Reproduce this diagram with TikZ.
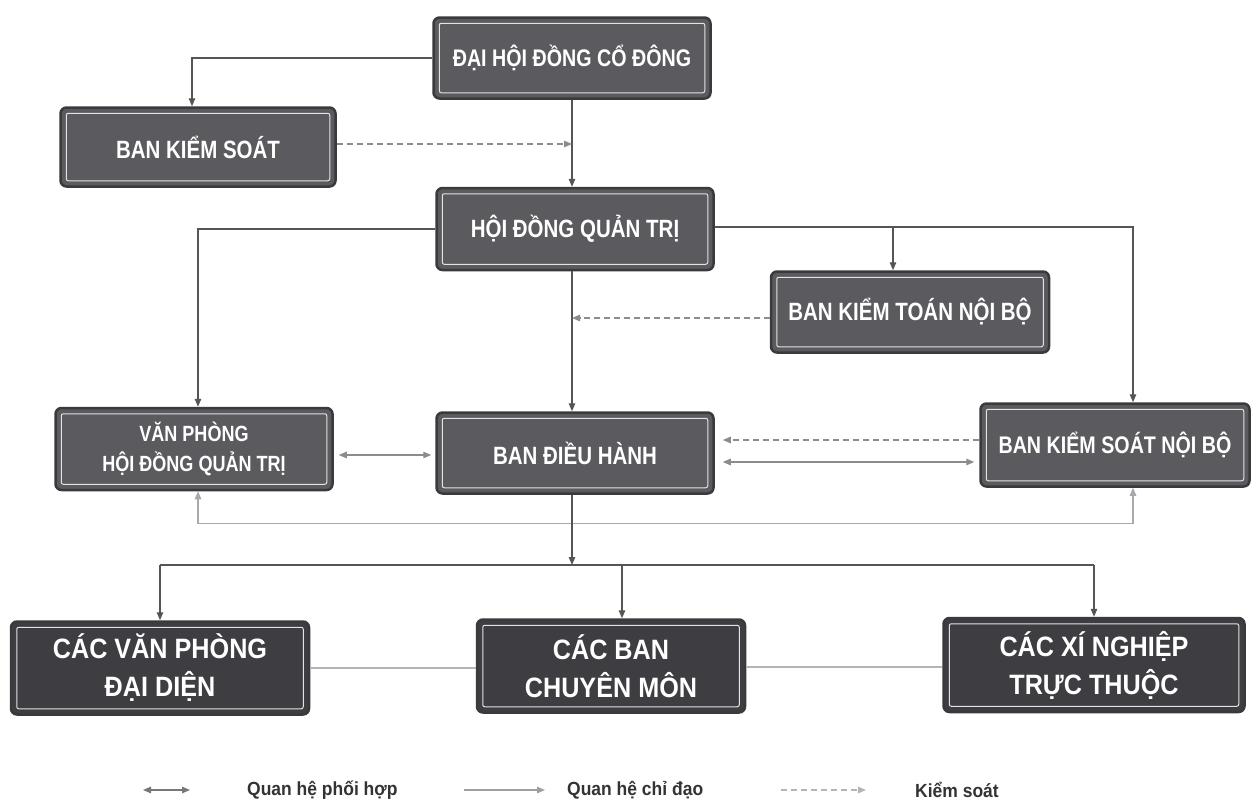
\documentclass[tikz,border=0pt]{standalone}
\usepackage{fontspec}
\setmainfont{Liberation Sans}
\newfontfamily\boxfont{Liberation Sans}[FakeStretch=0.82]
\newfontfamily\lowfont{Liberation Sans}[FakeStretch=0.9]
\newfontfamily\legfont{Liberation Sans}[FakeStretch=0.92]
\usetikzlibrary{arrows.meta,calc}
\definecolor{boxfill}{HTML}{5B5B5F}
\definecolor{lowfill}{HTML}{3E3E42}
\definecolor{edgec}{HTML}{3A3A3C}
\definecolor{conn}{HTML}{555555}
\definecolor{ctl}{HTML}{8C8C8C}
\definecolor{linkc}{HTML}{B4B4B4}
\tikzset{
 orgbox/.style={draw=edgec, line width=2.5pt, fill=boxfill, rounded corners=6pt, text=white,
   font=\boxfont\bfseries\fontsize{25}{30}\selectfont, align=center, inner sep=0pt},
 smallbox/.style={orgbox, font=\boxfont\bfseries\fontsize{22}{30}\selectfont},
 lowbox/.style={orgbox, fill=lowfill, font=\lowfont\bfseries\fontsize{28}{38}\selectfont},
 innerline/.style={draw=white!78!gray, line width=1pt, rounded corners=2pt},
 lead/.style={draw=conn, line width=1.3pt, -{Triangle[length=8pt,width=6.5pt]}},
 coordl/.style={draw=ctl, line width=1.2pt, {Triangle[length=8pt,width=6.5pt]}-{Triangle[length=8pt,width=6.5pt]}},
 ctrl/.style={draw=ctl, line width=1.3pt, dash pattern=on 6pt off 4pt, -{Triangle[length=8pt,width=6.5pt]}},
 link/.style={draw=linkc, line width=1.2pt},
 legend/.style={anchor=west, text=black!80, font=\legfont\bfseries\fontsize{19}{22}\selectfont, inner sep=0pt},
}
\begin{document}
\begin{tikzpicture}[x=1pt,y=-1pt]
\useasboundingbox[fill=white] (0,0) rectangle (1252,803);

% boxes
\node[orgbox, minimum width=277pt, minimum height=81pt, font=\boxfont\bfseries\fontsize{24}{30}\selectfont] (dh) at (572,58) {ĐẠI HỘI ĐỒNG CỔ ĐÔNG};
\node[orgbox, minimum width=275pt, minimum height=79pt] (bks) at (198,147) {BAN KIỂM SOÁT};
\node[orgbox, minimum width=277pt, minimum height=82pt] (hd) at (575,229) {HỘI ĐỒNG QUẢN TRỊ};
\node[orgbox, minimum width=278pt, minimum height=81pt] (ktnb) at (910,312) {BAN KIỂM TOÁN NỘI BỘ};
\node[smallbox, minimum width=277pt, minimum height=82pt] (vp) at (194,449) {VĂN PHÒNG\\HỘI ĐỒNG QUẢN TRỊ};
\node[orgbox, minimum width=277pt, minimum height=81pt] (bdh) at (575,453) {BAN ĐIỀU HÀNH};
\node[orgbox, minimum width=269pt, minimum height=83pt, font=\boxfont\bfseries\fontsize{24}{30}\selectfont] (ksnb) at (1115,445) {BAN KIỂM SOÁT NỘI BỘ};
\node[lowbox, minimum width=298pt, minimum height=93pt] (cvp) at (160,668) {CÁC VĂN PHÒNG\\ĐẠI DIỆN};
\node[lowbox, minimum width=268pt, minimum height=93pt] (cbcm) at (611,666) {CÁC BAN\\CHUYÊN MÔN};
\node[lowbox, minimum width=301pt, minimum height=94pt] (cxn) at (1094,665) {CÁC XÍ NGHIỆP\\TRỰC THUỘC};

\foreach \n in {dh,bks,hd,ktnb,vp,bdh,ksnb,cvp,cbcm,cxn}
  \draw[innerline] ([shift={(7,7)}]\n.north west) rectangle ([shift={(-7,-7)}]\n.south east);

% directing lines
\coordinate (axis) at (572,0);
\draw[lead] (dh.west) -| ([xshift=-6pt]bks.north);
\draw[lead] (dh.south -| axis) -- (hd.north -| axis);
\coordinate (bk1) at ($(bks.east)+(0,-3)$);
\draw[ctrl] (bk1) -- (bk1 -| axis);
\draw[lead] (hd.west) -| ([xshift=4pt]vp.north);
\coordinate (ksx) at ([xshift=18pt]ksnb.north);
\coordinate (ktx) at ([xshift=-17pt]ktnb.north);
\coordinate (hde) at ($(hd.east)+(0,-2)$);
\draw[lead] (hde) -| (ksx);
\draw[lead] (ktx |- hde) -- (ktx);
\draw[lead] (hd.south -| axis) -- (bdh.north -| axis);
\coordinate (kt1) at ($(ktnb.west)+(0,6)$);
\draw[ctrl] (kt1) -- (kt1 -| axis);

% coordination
\coordinate (v1) at ($(vp.east)+(0,6)$);
\draw[coordl, shorten <=5pt, shorten >=4pt] (v1) -- (v1 -| bdh.west);
\coordinate (k1) at ($(ksnb.west)+(0,-5)$);
\draw[ctrl, shorten >=8pt] (k1) -- (k1 -| bdh.east);
\coordinate (k2) at ($(ksnb.west)+(0,17)$);
\draw[coordl, shorten <=8pt, shorten >=5pt] (k2 -| bdh.east) -- (k2);
\coordinate (vb) at ([xshift=4pt]vp.south);
\coordinate (kb) at ([xshift=18pt]ksnb.south);
\coordinate (vbl) at ($(vb)+(0,32)$);
\draw[coordl, draw=linkc!80!gray] (vb) -- (vbl) -| (kb);

% lower level
\coordinate (bus) at (572,565);
\draw[lead] (bdh.south -| axis) -- (bus);
\coordinate (cbx) at ([xshift=11pt]cbcm.north);
\draw[conn, line width=1.3pt] (cvp.north |- bus) -- (cxn.north |- bus);
\draw[lead] (cvp.north |- bus) -- (cvp.north);
\draw[lead] (cbx |- bus) -- (cbx);
\draw[lead] (cxn.north |- bus) -- (cxn.north);
\coordinate (lk1) at ($(cbcm.west)+(0,2)$);
\coordinate (lk2) at ($(cbcm.east)+(0,1)$);
\draw[link] (lk1 -| cvp.east) -- (lk1);
\draw[link] (lk2) -- (lk2 -| cxn.west);

% legend
\coordinate (l1a) at (143,790); \coordinate (l1b) at (190,790);
\coordinate (l2a) at (464,790); \coordinate (l2b) at (545,790);
\coordinate (l3a) at (781,790); \coordinate (l3b) at (866,790);
\draw[coordl, draw=conn!80] (l1a) -- (l1b);
\draw[lead, draw=linkc!60!gray] (l2a) -- (l2b);
\draw[ctrl, draw=linkc] (l3a) -- (l3b);
\node[legend] (t1) at (247,790) {Quan hệ phối hợp};
\node[legend] (t2) at (567,790) {Quan hệ chỉ đạo};
\node[legend] (t3) at (915,790) {Kiểm soát};
\end{tikzpicture}
\end{document}
